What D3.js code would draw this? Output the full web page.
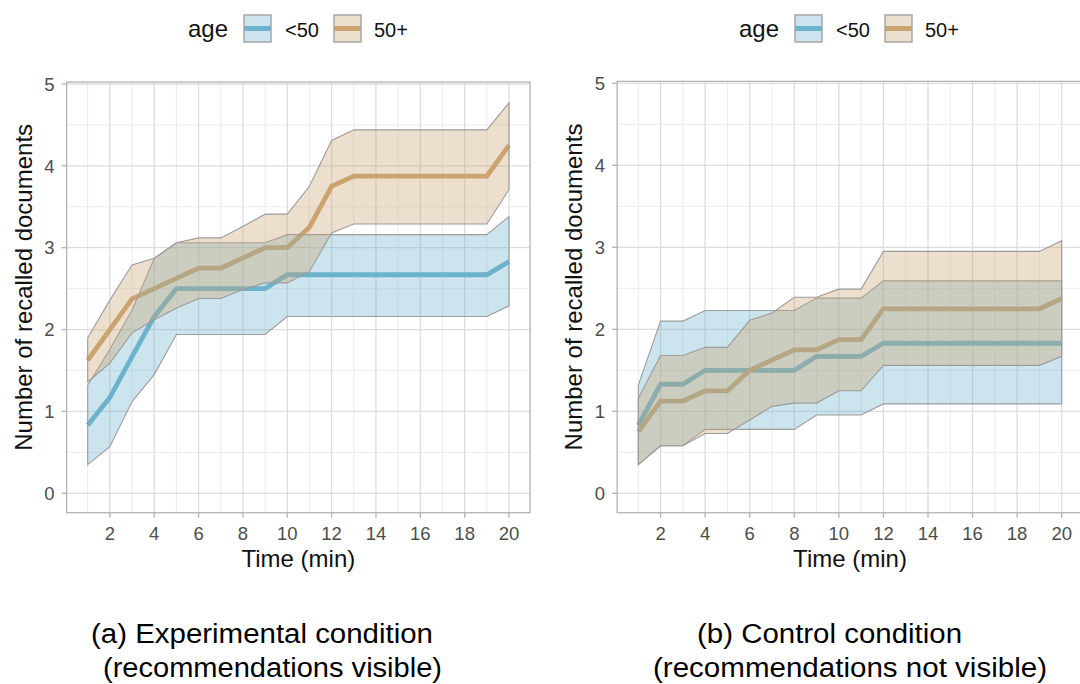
<!DOCTYPE html>
<html>
<head>
<meta charset="utf-8">
<script src="https://cdn.jsdelivr.net/npm/d3@7"></script>
<style>
  body { margin: 0; background: #fff; }
  text { font-family: "Liberation Sans", Arial, sans-serif; }
</style>
</head>
<body>
<svg width="1080" height="684"></svg>
<script>
// x values (minutes) and the two age groups
var minutes = [1, 2, 3, 4, 5, 6, 7, 8, 9, 10, 11, 12, 13, 14, 15, 16, 17, 18, 19, 20];
var ageGroups = ["<50", "50+"];

// (a) experimental condition, <50
var youngMeanA = [0.83, 1.17, 1.67, 2.16, 2.5, 2.5, 2.5, 2.5, 2.5, 2.67, 2.67, 2.67, 2.67, 2.67, 2.67, 2.67, 2.67, 2.67, 2.67, 2.83];
var youngLowA  = [0.35, 0.57, 1.12, 1.45, 1.94, 1.94, 1.94, 1.94, 1.94, 2.16, 2.16, 2.16, 2.16, 2.16, 2.16, 2.16, 2.16, 2.16, 2.16, 2.29];
var youngHighA = [1.32, 1.76, 2.24, 2.87, 3.06, 3.06, 3.06, 3.06, 3.06, 3.16, 3.16, 3.16, 3.16, 3.16, 3.16, 3.16, 3.16, 3.16, 3.16, 3.38];
// (a) experimental condition, 50+
var oldMeanA = [1.625, 2.0, 2.375, 2.5, 2.625, 2.75, 2.75, 2.875, 3.0, 3.0, 3.25, 3.75, 3.875, 3.875, 3.875, 3.875, 3.875, 3.875, 3.875, 4.25];
var oldLowA  = [1.36, 1.59, 1.96, 2.12, 2.26, 2.38, 2.38, 2.49, 2.57, 2.57, 2.71, 3.18, 3.29, 3.29, 3.29, 3.29, 3.29, 3.29, 3.29, 3.71];
var oldHighA = [1.9, 2.36, 2.79, 2.87, 3.06, 3.12, 3.12, 3.26, 3.41, 3.41, 3.75, 4.31, 4.44, 4.44, 4.44, 4.44, 4.44, 4.44, 4.44, 4.77];

// (b) control condition, <50
var youngMeanB = [0.83, 1.33, 1.33, 1.5, 1.5, 1.5, 1.5, 1.5, 1.67, 1.67, 1.67, 1.83, 1.83, 1.83, 1.83, 1.83, 1.83, 1.83, 1.83, 1.83];
var youngLowB  = [0.35, 0.58, 0.58, 0.78, 0.78, 0.78, 0.78, 0.78, 0.955, 0.955, 0.955, 1.09, 1.09, 1.09, 1.09, 1.09, 1.09, 1.09, 1.09, 1.09];
var youngHighB = [1.32, 2.1, 2.1, 2.23, 2.23, 2.23, 2.23, 2.23, 2.38, 2.38, 2.38, 2.59, 2.59, 2.59, 2.59, 2.59, 2.59, 2.59, 2.59, 2.59];
// (b) control condition, 50+
var oldMeanB = [0.75, 1.125, 1.125, 1.25, 1.25, 1.5, 1.625, 1.75, 1.75, 1.875, 1.875, 2.25, 2.25, 2.25, 2.25, 2.25, 2.25, 2.25, 2.25, 2.375];
var oldLowB  = [0.35, 0.58, 0.58, 0.73, 0.73, 0.895, 1.06, 1.1, 1.1, 1.25, 1.25, 1.56, 1.56, 1.56, 1.56, 1.56, 1.56, 1.56, 1.56, 1.67];
var oldHighB = [1.16, 1.68, 1.68, 1.78, 1.78, 2.11, 2.2, 2.39, 2.39, 2.49, 2.49, 2.95, 2.95, 2.95, 2.95, 2.95, 2.95, 2.95, 2.95, 3.08];

// ticks and labels
var xMajor = [2, 4, 6, 8, 10, 12, 14, 16, 18, 20];
var xMinor = [1, 3, 5, 7, 9, 11, 13, 15, 17, 19];
var yMajor = [0, 1, 2, 3, 4, 5];
var yMinor = [0.5, 1.5, 2.5, 3.5, 4.5];
var captionA = ["(a) Experimental condition", "(recommendations visible)"];
var captionB = ["(b) Control condition", "(recommendations not visible)"];

var groupColor = { "<50": "#6cb2cc", "50+": "#cba36f" };
var ribbonAlpha = 0.35;

var svg = d3.select("svg");
svg.append("rect").attr("width", 1080).attr("height", 684).attr("fill", "#fff");

// one panel: pixel geometry here, values from the arrays above
function drawPanel(opt) {
    var x = d3.scaleLinear().domain([1, 20]).range(opt.xRange);
    var y = d3.scaleLinear().domain([0, 5]).range(opt.yRange);
    var left = x(0.05), right = x(20.95), top = y(5.024), bottom = y(-0.237);

    var g = svg.append("g");
    var clip = "clip" + opt.id;
    g.append("clipPath").attr("id", clip).append("rect")
        .attr("x", left).attr("y", top).attr("width", right - left).attr("height", bottom - top);

    // grid
    var grid = g.append("g");
    grid.selectAll(".vmin").data(xMinor).enter().append("line")
        .attr("x1", d => x(d)).attr("x2", d => x(d)).attr("y1", top).attr("y2", bottom)
        .attr("stroke", "#ececec").attr("stroke-width", 1);
    grid.selectAll(".hmin").data(yMinor).enter().append("line")
        .attr("y1", d => y(d)).attr("y2", d => y(d)).attr("x1", left).attr("x2", right)
        .attr("stroke", "#ececec").attr("stroke-width", 1);
    grid.selectAll(".vmaj").data(xMajor).enter().append("line")
        .attr("x1", d => x(d)).attr("x2", d => x(d)).attr("y1", top).attr("y2", bottom)
        .attr("stroke", "#dcdcdc").attr("stroke-width", 1.3);
    grid.selectAll(".hmaj").data(yMajor).enter().append("line")
        .attr("y1", d => y(d)).attr("y2", d => y(d)).attr("x1", left).attr("x2", right)
        .attr("stroke", "#dcdcdc").attr("stroke-width", 1.3);

    var series = ageGroups.map(function(k, i) {
        return {
            key: k,
            rows: minutes.map(function(m, j) {
                return { t: m, mean: opt.mean[i][j], lo: opt.lo[i][j], hi: opt.hi[i][j] };
            })
        };
    });

    var plot = g.append("g").attr("clip-path", "url(#" + clip + ")");

    // lines first, ribbons on top (as in the original)
    var line = d3.line().x(d => x(d.t)).y(d => y(d.mean));
    plot.selectAll(".mean").data(series).enter().append("path")
        .attr("d", d => line(d.rows))
        .attr("fill", "none")
        .attr("stroke", d => groupColor[d.key])
        .attr("stroke-width", 4.8);

    var area = d3.area().x(d => x(d.t)).y0(d => y(d.lo)).y1(d => y(d.hi));
    plot.selectAll(".band").data(series).enter().append("path")
        .attr("d", d => area(d.rows) + "Z")
        .attr("fill", d => groupColor[d.key])
        .attr("fill-opacity", ribbonAlpha)
        .attr("stroke", "#9c9c9c")
        .attr("stroke-width", 1.1);

    // panel border
    g.append("rect")
        .attr("x", left).attr("y", top).attr("width", right - left).attr("height", bottom - top)
        .attr("fill", "none").attr("stroke", "#b3b3b3").attr("stroke-width", 1.3);

    // ticks
    g.selectAll(".xt").data(xMajor).enter().append("line")
        .attr("x1", d => x(d)).attr("x2", d => x(d)).attr("y1", bottom).attr("y2", bottom + 5)
        .attr("stroke", "#b3b3b3").attr("stroke-width", 1.3);
    g.selectAll(".yt").data(yMajor).enter().append("line")
        .attr("y1", d => y(d)).attr("y2", d => y(d)).attr("x1", left - 5).attr("x2", left)
        .attr("stroke", "#b3b3b3").attr("stroke-width", 1.3);

    g.selectAll(".xl").data(xMajor).enter().append("text")
        .attr("x", d => x(d)).attr("y", bottom + 27)
        .attr("text-anchor", "middle").attr("fill", "#4d4d4d").style("font-size", "18.5px")
        .text(d => d);
    g.selectAll(".yl").data(yMajor).enter().append("text")
        .attr("x", left - 12).attr("y", d => y(d)).attr("dy", "0.36em")
        .attr("text-anchor", "end").attr("fill", "#4d4d4d").style("font-size", "18.5px")
        .text(d => d);

    // axis titles
    g.append("text")
        .attr("x", (left + right) / 2).attr("y", bottom + 54)
        .attr("text-anchor", "middle").attr("fill", "#111").style("font-size", "24px")
        .text("Time (min)");
    g.append("text")
        .attr("transform", "translate(" + (left - 35) + "," + ((top + bottom) / 2 - 10) + ") rotate(-90)")
        .attr("text-anchor", "middle").attr("fill", "#111").style("font-size", "24px")
        .text("Number of recalled documents");

    // legend
    var lg = g.append("g").attr("transform", "translate(" + opt.legendX + ",0)");
    lg.append("text").attr("x", 0).attr("y", 37).attr("fill", "#111")
        .style("font-size", "24px").text("age");
    var keyX = [56, 146], labX = [97, 186];
    ageGroups.forEach(function(k, i) {
        lg.append("line")
            .attr("x1", keyX[i]).attr("x2", keyX[i] + 27).attr("y1", 28.5).attr("y2", 28.5)
            .attr("stroke", groupColor[k]).attr("stroke-width", 5);
        lg.append("rect")
            .attr("x", keyX[i]).attr("y", 15).attr("width", 27).attr("height", 27)
            .attr("fill", groupColor[k]).attr("fill-opacity", ribbonAlpha)
            .attr("stroke", "#a6a6a6").attr("stroke-width", 1.5);
        lg.append("text").attr("x", labX[i]).attr("y", 37).attr("fill", "#111")
            .style("font-size", "20px").text(k);
    });

    // caption under the panel
    opt.caption.forEach(function(c, i) {
        svg.append("text")
            .attr("x", opt.capX[i]).attr("y", 643 + i * 34)
            .attr("textLength", opt.capW[i]).attr("lengthAdjust", "spacingAndGlyphs")
            .attr("fill", "#000")
            .style("font-size", "27px")
            .text(c);
    });
}

drawPanel({
    id: "a", xRange: [87.7, 509], yRange: [493.3, 84],
    mean: [youngMeanA, oldMeanA], lo: [youngLowA, oldLowA], hi: [youngHighA, oldHighA],
    legendX: 188, caption: captionA, capX: [91, 103], capW: [342, 339]
});
drawPanel({
    id: "b", xRange: [638.3, 1061.7], yRange: [493.3, 83.3],
    mean: [youngMeanB, oldMeanB], lo: [youngLowB, oldLowB], hi: [youngHighB, oldHighB],
    legendX: 739, caption: captionB, capX: [697, 653], capW: [265, 394]
});
</script>
</body>
</html>
